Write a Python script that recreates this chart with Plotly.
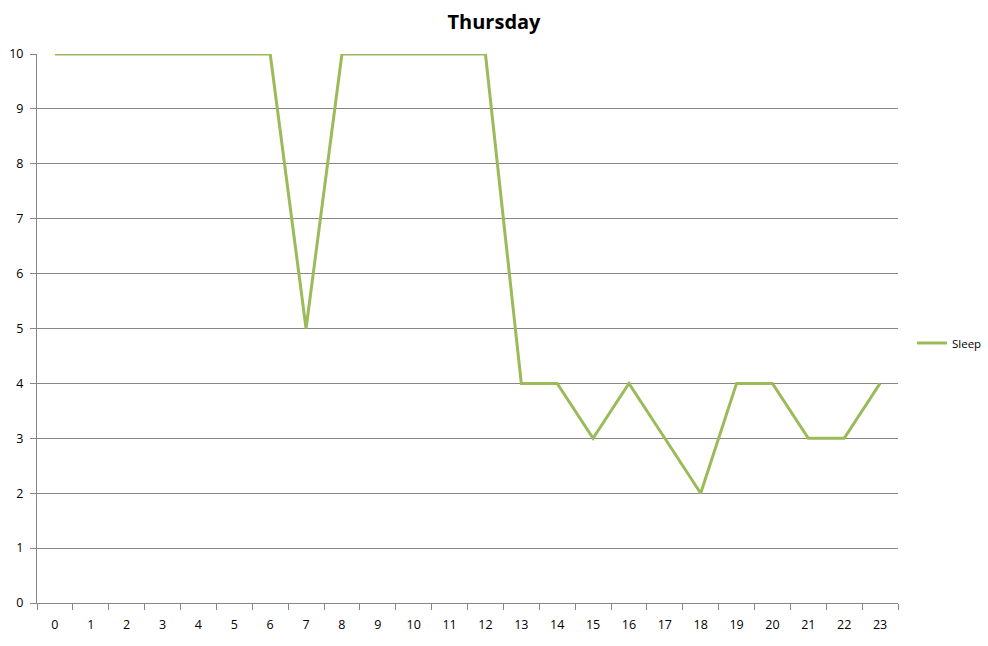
import plotly.graph_objects as go

hours = [str(h) for h in range(24)]
sleep = [10, 10, 10, 10, 10, 10, 10, 5, 10, 10, 10, 10, 10, 4, 4, 3, 4, 3, 2, 4, 4, 3, 3, 4]
y_ticks = list(range(0, 11))

FONT = "Open Sans, Liberation Sans, sans-serif"

fig = go.Figure()
fig.add_trace(go.Scatter(
    x=hours, y=sleep, mode="lines", name="Sleep",
    line=dict(color="#9BBB59", width=3),
))

fig.update_layout(
    width=988, height=646,
    margin=dict(l=37, r=90, t=54, b=43),
    paper_bgcolor="white", plot_bgcolor="white",
    font=dict(family=FONT, size=12, color="#000000"),
    title=dict(text="<b>Thursday</b>", x=0.5, xref="container", xanchor="center",
               y=1 - 22 / 646, yref="container", yanchor="middle",
               font=dict(size=20, family=FONT)),
    showlegend=True,
    legend=dict(xref="container", yref="container", x=912 / 988, xanchor="left",
                y=1 - 343 / 646, yanchor="middle",
                font=dict(size=11.5), bgcolor="rgba(0,0,0,0)"),
    xaxis=dict(type="category", tickson="boundaries", ticks="outside", ticklen=6,
               tickcolor="#868686", showline=True, linecolor="#868686", linewidth=1,
               showgrid=False, zeroline=False, range=[-0.5, 23.5],
               ticklabelstandoff=10, automargin=False, tickfont=dict(size=12.5)),
    yaxis=dict(range=[0, 10], tickvals=y_ticks, ticks="outside", ticklen=6,
               tickcolor="#868686", showline=True, linecolor="#868686", linewidth=1,
               showgrid=True, gridcolor="#868686", gridwidth=1, zeroline=False,
               ticklabelstandoff=4, automargin=False, tickfont=dict(size=12.5)),
)

fig.write_html("out.html", post_script="document.body.style.margin='0';",
               config={"displayModeBar": False})
